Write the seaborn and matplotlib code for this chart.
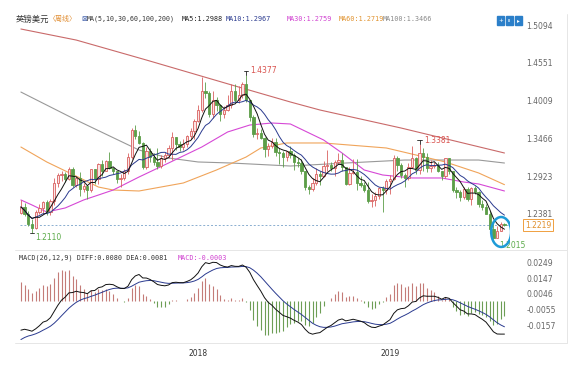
import matplotlib
matplotlib.use('Agg')
import matplotlib.pyplot as plt
import matplotlib.patches as mpatches
from matplotlib.lines import Line2D
import numpy as np
import pandas as pd
import seaborn as sns

sns.set_theme(style='white')
plt.rcParams['font.family'] = ['DejaVu Sans', 'Noto Sans CJK SC']

# weekly GBP/USD candles, Feb 2017 - Aug 2019
opens = [1.2390, 1.2480, 1.2380, 1.2230, 1.2170, 1.2400, 1.2470, 1.2550, 1.2400, 1.2560,
         1.2830, 1.2940, 1.2960, 1.2880, 1.3030, 1.2800, 1.2890, 1.2740, 1.2780, 1.2720,
         1.3030, 1.2880, 1.3100, 1.3000, 1.3140, 1.3040, 1.3000, 1.2880, 1.2890, 1.2990,
         1.3200, 1.3590, 1.3500, 1.3400, 1.3060, 1.3290, 1.3200, 1.3130, 1.3070, 1.3190,
         1.3220, 1.3330, 1.3480, 1.3380, 1.3340, 1.3380, 1.3500, 1.3570, 1.3720, 1.3870,
         1.4150, 1.4120, 1.3820, 1.4020, 1.3950, 1.3810, 1.3880, 1.3950, 1.4140, 1.4020,
         1.4090, 1.4240, 1.4010, 1.3770, 1.3530, 1.3540, 1.3470, 1.3310, 1.3350, 1.3410,
         1.3270, 1.3260, 1.3200, 1.3280, 1.3230, 1.3130, 1.3110, 1.3000, 1.2760, 1.2740,
         1.2830, 1.2960, 1.2920, 1.3070, 1.3080, 1.3040, 1.3120, 1.3150, 1.3050, 1.2810,
         1.2970, 1.2980, 1.2830, 1.2800, 1.2720, 1.2570, 1.2580, 1.2640, 1.2750, 1.2730,
         1.2850, 1.2880, 1.3190, 1.3080, 1.2940, 1.2890, 1.3060, 1.3190, 1.3010, 1.3260,
         1.3200, 1.3040, 1.3070, 1.3080, 1.2990, 1.2920, 1.3180, 1.3000, 1.2720, 1.2700,
         1.2620, 1.2740, 1.2590, 1.2750, 1.2690, 1.2520, 1.2480, 1.2380, 1.2160, 1.2040,
         1.2140, 1.2240]
highs = [1.2580, 1.2530, 1.2420, 1.2300, 1.2440, 1.2520, 1.2560, 1.2580, 1.2600, 1.2900,
         1.2970, 1.2990, 1.2980, 1.3050, 1.3050, 1.2930, 1.2980, 1.2820, 1.2800, 1.3030,
         1.3030, 1.3110, 1.3160, 1.3160, 1.3270, 1.3060, 1.3000, 1.2950, 1.3030, 1.3250,
         1.3620, 1.3660, 1.3570, 1.3410, 1.3340, 1.3320, 1.3260, 1.3320, 1.3220, 1.3270,
         1.3370, 1.3550, 1.3480, 1.3430, 1.3460, 1.3520, 1.3610, 1.3740, 1.3940, 1.4340,
         1.4280, 1.4140, 1.4140, 1.4060, 1.3960, 1.3930, 1.4090, 1.4240, 1.4240, 1.4220,
         1.4270, 1.4377, 1.4010, 1.3800, 1.3620, 1.3600, 1.3490, 1.3400, 1.3470, 1.3470,
         1.3320, 1.3290, 1.3290, 1.3360, 1.3260, 1.3180, 1.3170, 1.3000, 1.2790, 1.2900,
         1.3040, 1.3000, 1.3140, 1.3300, 1.3120, 1.3150, 1.3260, 1.3260, 1.3060, 1.3050,
         1.3170, 1.3170, 1.2930, 1.2840, 1.2840, 1.2670, 1.2690, 1.2760, 1.2780, 1.2880,
         1.2940, 1.3220, 1.3210, 1.3110, 1.2970, 1.3110, 1.3350, 1.3200, 1.3381, 1.3330,
         1.3260, 1.3160, 1.3130, 1.3120, 1.3000, 1.3180, 1.3180, 1.3000, 1.2760, 1.2730,
         1.2760, 1.2760, 1.2760, 1.2780, 1.2710, 1.2580, 1.2520, 1.2420, 1.2250, 1.2210,
         1.2270, 1.2250]
lows = [1.2380, 1.2350, 1.2200, 1.2110, 1.2160, 1.2380, 1.2380, 1.2360, 1.2370, 1.2510,
        1.2770, 1.2850, 1.2840, 1.2870, 1.2770, 1.2770, 1.2640, 1.2700, 1.2590, 1.2690,
        1.2810, 1.2810, 1.2930, 1.2990, 1.3020, 1.2950, 1.2830, 1.2770, 1.2860, 1.2960,
        1.3170, 1.3460, 1.3380, 1.3030, 1.3030, 1.3120, 1.3080, 1.3030, 1.3040, 1.3130,
        1.3190, 1.3150, 1.3300, 1.3290, 1.3300, 1.3340, 1.3460, 1.3460, 1.3700, 1.3840,
        1.4050, 1.3770, 1.3760, 1.3860, 1.3710, 1.3760, 1.3860, 1.3900, 1.3990, 1.3970,
        1.4050, 1.3990, 1.3710, 1.3490, 1.3460, 1.3450, 1.3200, 1.3210, 1.3320, 1.3210,
        1.3100, 1.3050, 1.3140, 1.3180, 1.3010, 1.3060, 1.2950, 1.2730, 1.2660, 1.2710,
        1.2790, 1.2790, 1.2910, 1.3000, 1.3000, 1.2920, 1.3100, 1.3000, 1.2800, 1.2790,
        1.2960, 1.2720, 1.2770, 1.2700, 1.2530, 1.2480, 1.2500, 1.2600, 1.2400, 1.2670,
        1.2660, 1.2860, 1.3000, 1.2890, 1.2770, 1.2860, 1.3040, 1.2960, 1.2950, 1.3000,
        1.2980, 1.2980, 1.3040, 1.2980, 1.2870, 1.2900, 1.2960, 1.2700, 1.2610, 1.2560,
        1.2600, 1.2570, 1.2510, 1.2660, 1.2480, 1.2440, 1.2380, 1.2120, 1.2015, 1.2030,
        1.2130, 1.2200]
closes = [1.2480, 1.2380, 1.2230, 1.2170, 1.2400, 1.2470, 1.2550, 1.2400, 1.2560, 1.2830,
          1.2940, 1.2960, 1.2880, 1.3030, 1.2800, 1.2890, 1.2740, 1.2780, 1.2720, 1.3030,
          1.2880, 1.3100, 1.3000, 1.3140, 1.3040, 1.3000, 1.2880, 1.2890, 1.2990, 1.3200,
          1.3590, 1.3500, 1.3400, 1.3060, 1.3290, 1.3200, 1.3130, 1.3070, 1.3190, 1.3220,
          1.3330, 1.3480, 1.3380, 1.3340, 1.3380, 1.3500, 1.3570, 1.3720, 1.3870, 1.4150,
          1.4120, 1.3820, 1.4020, 1.3950, 1.3810, 1.3880, 1.3950, 1.4140, 1.4020, 1.4090,
          1.4240, 1.4010, 1.3770, 1.3530, 1.3540, 1.3470, 1.3310, 1.3350, 1.3410, 1.3270,
          1.3260, 1.3200, 1.3280, 1.3230, 1.3130, 1.3110, 1.3000, 1.2760, 1.2740, 1.2830,
          1.2960, 1.2920, 1.3070, 1.3080, 1.3040, 1.3120, 1.3150, 1.3050, 1.2810, 1.2970,
          1.2980, 1.2830, 1.2800, 1.2720, 1.2570, 1.2580, 1.2640, 1.2750, 1.2730, 1.2850,
          1.2880, 1.3190, 1.3080, 1.2940, 1.2890, 1.3060, 1.3190, 1.3010, 1.3260, 1.3200,
          1.3040, 1.3070, 1.3080, 1.2990, 1.2920, 1.3180, 1.3000, 1.2720, 1.2700, 1.2620,
          1.2740, 1.2590, 1.2750, 1.2690, 1.2520, 1.2480, 1.2380, 1.2160, 1.2040, 1.2140,
          1.2240, 1.2219]

# long moving averages as (week index, value)
ma30_idx = [0, 3, 7, 12, 17, 21, 25, 32, 40, 49, 56, 62, 68, 73, 82, 87, 93, 98, 106, 114, 120, 124, 131]
ma30_val = [1.2580, 1.2508, 1.2407, 1.2465, 1.2580, 1.2651, 1.2723, 1.2910, 1.3111, 1.3341, 1.3557, 1.3657,
            1.3686, 1.3672, 1.3442, 1.3255, 1.3011, 1.2939, 1.2896, 1.2896, 1.2838, 1.2810, 1.2709]
ma60_idx = [0, 7, 16, 21, 25, 32, 44, 53, 61, 65, 72, 82, 99, 115, 124, 131]
ma60_val = [1.3341, 1.3126, 1.2896, 1.2766, 1.2723, 1.2709, 1.2824, 1.3011, 1.3197, 1.3327, 1.3399, 1.3399,
            1.3327, 1.3126, 1.2968, 1.2800]
ma100_idx = [0, 15, 28, 32, 40, 48, 57, 73, 88, 104, 124, 131]
ma100_val = [1.4131, 1.3729, 1.3399, 1.3298, 1.3183, 1.3126, 1.3111, 1.3068, 1.3111, 1.3154, 1.3154, 1.3111]
ma200_idx = [0, 15, 34, 59, 73, 81, 103, 131]
ma200_val = [1.5037, 1.4878, 1.4591, 1.4203, 1.3988, 1.3873, 1.3614, 1.3255]

# MACD state at the left edge of the chart
ema12_start = 1.2480
ema26_start = 1.2680
dea_start = -0.0260

price_ticks = [1.5094, 1.4551, 1.4009, 1.3466, 1.2923, 1.2381]
macd_ticks = [0.0249, 0.0147, 0.0046, -0.0055, -0.0157]
year_pos = [48, 100]
year_labels = ['2018', '2019']
last_price = 1.2219

df = pd.DataFrame({'open': opens, 'high': highs, 'low': lows, 'close': closes})
df['week'] = np.arange(len(df))
df['ma5'] = df['close'].rolling(5, min_periods=1).mean()
df['ma10'] = df['close'].rolling(10, min_periods=1).mean()

# MACD(26,12,9)
e12, e26, dea = ema12_start, ema26_start, dea_start
diffs, deas = [], []
for c in closes:
    e12 = e12 + 2 / 13 * (c - e12)
    e26 = e26 + 2 / 27 * (c - e26)
    d = e12 - e26
    dea = dea + 0.2 * (d - dea)
    diffs.append(d)
    deas.append(dea)
df['diff'] = diffs
df['dea'] = deas
df['hist'] = 2 * (df['diff'] - df['dea'])

W, H = 576, 368
fig = plt.figure(figsize=(5.76, 3.68), dpi=100)
fig.patch.set_facecolor('white')

def fx(x):
    return x / W

def fy(y):
    return 1 - y / H

ax = fig.add_axes([fx(15), fy(250), fx(495), 240 / H])
ax2 = fig.add_axes([fx(15), fy(343), fx(495), 91 / H], sharex=ax)

up_col, up_fill, dn_col = '#d9605f', '#fbe4e4', '#5c9e48'
up = df['close'] >= df['open']

# candles
ax.vlines(df['week'][up], df['low'][up], df['high'][up], color=up_col, lw=0.6, zorder=2)
ax.vlines(df['week'][~up], df['low'][~up], df['high'][~up], color=dn_col, lw=0.6, zorder=2)
body = (df['close'] - df['open']).abs().clip(lower=0.0008)
bottom = df[['open', 'close']].min(axis=1)
ax.bar(df['week'][up], body[up], bottom=bottom[up], width=0.62, color=up_fill,
       edgecolor=up_col, linewidth=0.6, zorder=3)
ax.bar(df['week'][~up], body[~up], bottom=bottom[~up], width=0.62, color=dn_col,
       edgecolor=dn_col, linewidth=0.6, zorder=3)

# moving averages
sns.lineplot(x=ma200_idx, y=ma200_val, ax=ax, color='#c96a6a', lw=0.8, zorder=1)
sns.lineplot(x=ma100_idx, y=ma100_val, ax=ax, color='#999999', lw=0.8, zorder=1)
sns.lineplot(x=ma60_idx, y=ma60_val, ax=ax, color='#f0a45a', lw=0.8, zorder=1)
sns.lineplot(x=ma30_idx, y=ma30_val, ax=ax, color='#d648d6', lw=0.8, zorder=1)
sns.lineplot(data=df, x='week', y='ma10', ax=ax, color='#2a3a8f', lw=0.7, zorder=4)
sns.lineplot(data=df, x='week', y='ma5', ax=ax, color='#111111', lw=0.7, zorder=4)

ax.axhline(last_price, xmin=0.01, color='#8aaed0', lw=0.7, ls=(0, (2, 2)), zorder=1)

# high / low marks
i_hi1 = int(np.argmax(highs[:80]))
i_hi2 = 80 + int(np.argmax(highs[80:]))
i_lo1 = int(np.argmin(lows[:20]))
i_lo2 = 100 + int(np.argmin(lows[100:]))
red_t, green_t = '#d9534f', '#5cab4a'
for i in (i_hi1, i_hi2):
    ax.plot([i, i], [highs[i], highs[i] + 0.006], color='#222222', lw=0.6, zorder=5)
    ax.plot([i - 0.6, i + 0.6], [highs[i] + 0.006] * 2, color='#222222', lw=0.6, zorder=5)
    ax.text(i + 1.2, highs[i] + 0.006, f'{highs[i]:.4f}', color=red_t, fontsize=5.5,
            ha='left', va='center')
ax.plot([i_lo1 - 0.6, i_lo1 + 0.6], [lows[i_lo1]] * 2, color='#222222', lw=0.6)
ax.text(i_lo1 + 0.8, lows[i_lo1] - 0.007, f'{lows[i_lo1]:.4f}', color=green_t, fontsize=5.5,
        ha='left', va='center')
ax.text(i_lo2 + 1.6, lows[i_lo2] - 0.009, f'{lows[i_lo2]:.4f}', color=green_t, fontsize=5.5,
        ha='left', va='center', zorder=2)

# circle round the last candles
ax.add_patch(mpatches.Ellipse((130.1, 1.2120), 5.4, 0.043, fill=False,
                              edgecolor='#1e9bd7', lw=1.8, zorder=6))

ax.set_xlim(-1.6, 132.5)
ax.set_ylim(1.1861, 1.5310)
ax.yaxis.tick_right()
ax.set_yticks(price_ticks)
ax.set_yticklabels([f'{t:.4f}' for t in price_ticks])
ax.tick_params(axis='y', length=0, pad=12, labelsize=5.5, labelcolor='#666666')
ax.tick_params(axis='x', length=0, labelbottom=False)
ax.set_xlabel('')
ax.set_ylabel('')

# last price box
ax.text(1.03, (last_price - 1.1861) / (1.5310 - 1.1861), f'{last_price:.4f}',
        transform=ax.transAxes, fontsize=5.5, color='#e0902c', ha='left', va='center',
        bbox=dict(boxstyle='square,pad=0.25', fc='white', ec='#f0a040', lw=0.7), clip_on=False)

# MACD panel
pos = df['hist'] >= 0
ax2.vlines(df['week'][pos], 0, df['hist'][pos], color='#c47c78', lw=0.8, zorder=2)
ax2.vlines(df['week'][~pos], 0, df['hist'][~pos], color='#6d9e55', lw=0.8, zorder=2)
sns.lineplot(data=df, x='week', y='dea', ax=ax2, color='#2a3a8f', lw=0.7, zorder=3)
sns.lineplot(data=df, x='week', y='diff', ax=ax2, color='#111111', lw=0.7, zorder=3)
ax2.set_ylim(-0.0267, 0.0313)
ax2.yaxis.tick_right()
ax2.set_yticks(macd_ticks)
ax2.set_yticklabels([f'{t:.4f}' for t in macd_ticks])
ax2.set_xticks(year_pos)
ax2.set_xticklabels(year_labels)
ax2.tick_params(axis='y', length=0, pad=12, labelsize=5.5, labelcolor='#666666')
ax2.tick_params(axis='x', length=0, pad=4, labelsize=5.5, labelcolor='#333333')
ax2.set_xlabel('')
ax2.set_ylabel('')

for a in (ax, ax2):
    for s in a.spines.values():
        s.set_visible(False)
    a.set_facecolor('none')

# panel borders
for y in (250, 343):
    fig.add_artist(Line2D([fx(15), fx(567)], [fy(y), fy(y)], color='#e6e6e6', lw=0.7))
fig.add_artist(Line2D([fx(567), fx(567)], [fy(14), fy(343)], color='#e6e6e6', lw=0.7))

# header text
mono = ['DejaVu Sans Mono', 'Noto Sans CJK SC']
cjk = ['Noto Sans CJK SC', 'DejaVu Sans']
head = [(16, '英镑美元', '#333333', cjk, 6.0), (49, '〈周线〉', '#e08a2c', cjk, 5.0),
        (81, '⊠', '#3a5aa8', ['DejaVu Sans'], 5.0), (87, 'MA(5,10,30,60,100,200)', '#333333', mono, 4.8),
        (182, 'MA5:1.2988', '#222222', mono, 4.9), (226, 'MA10:1.2967', '#2a3a8f', mono, 4.9),
        (287, 'MA30:1.2759', '#d040d0', mono, 4.9), (339, 'MA60:1.2719', '#e0922e', mono, 4.9),
        (383, 'MA100:1.3466', '#888888', mono, 4.9)]
for x, t, c, fam, fs in head:
    fig.text(fx(x), fy(19), t, color=c, fontsize=fs, family=fam, ha='left', va='center')

fig.text(fx(19), fy(258), 'MACD(26,12,9) DIFF:0.0080 DEA:0.0081', color='#333333',
         fontsize=4.9, family=mono, ha='left', va='center')
fig.text(fx(178), fy(258), 'MACD:-0.0003', color='#d040d0', fontsize=4.9, family=mono,
         ha='left', va='center')

# toolbar icons
for x, g in ((497, '+'), (506, 'ıı'), (515, '▸')):
    fig.patches.append(mpatches.Rectangle((fx(x), fy(25)), fx(7), 9 / H, color='#2b7fc9',
                                          transform=fig.transFigure, figure=fig))
    fig.text(fx(x + 3.5), fy(20.5), g, color='white', fontsize=4, ha='center', va='center')

fig.savefig('out.png', dpi=100, facecolor='white')
